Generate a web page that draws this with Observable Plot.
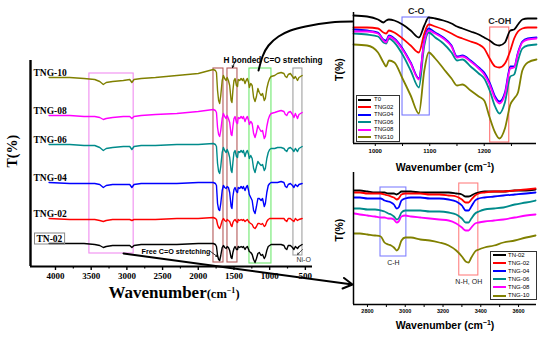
<!DOCTYPE html>
<html><head><meta charset="utf-8">
<script src="https://cdn.jsdelivr.net/npm/d3@7"></script>
<script src="https://cdn.jsdelivr.net/npm/@observablehq/plot@0.6"></script>
<style>
body{margin:0;background:#fff}
#wrap{position:relative;width:550px;height:337px;overflow:hidden;background:#fff}
#wrap svg{position:absolute}
.t{position:absolute;white-space:nowrap}
.lgbox{position:absolute;border:1px solid #333;box-sizing:border-box}
.sw{position:absolute;height:2px}
.lt{position:absolute;font:6px 'Liberation Sans',Arial,sans-serif;line-height:7px;color:#000;white-space:nowrap}
</style></head><body><div id="wrap"></div><script>
// ---------- main spectra (wavenumber, arbitrary T units) ----------
const mainSeries = ["TN-02","TNG-02","TNG-04","TNG-06","TNG-08","TNG-10"];
const mainW = [4090,3800,3600,3450,3380,3330,3290,3200,3050,2960,
  2930,2900,2800,2600,2300,2000,1790,1760,1745,1730,
  1715,1700,1685,1665,1648,1630,1610,1595,1578,1560,
  1540,1528,1515,1500,1485,1465,1450,1440,1420,1400,
  1380,1368,1345,1330,1312,1295,1285,1265,1245,1225,
  1205,1185,1165,1145,1120,1100,1075,1060,1040,1020,
  1000,980,930,890,840,800,780,760,740,710,
  680,660,640,610,590,545];
const mainTN02 = [57,57,57,56,55,53,54,55,55,55, 53,55,56,56,56,57,57,56,54,45, 41,40,45,53,55,53,52,54,53,50, 43,42,48,52,54,51,51,54,53,54, 53,54,51,53,54,51,49,48,46,41, 38,42,47,48,45,46,42,44,50,54, 55,56,56,56,56,55,52,51,55,55, 53,51,54,52,54,56];
const mainTNG02 = [82,81,81,81,80,79,80,81,81,81, 80,81,81,81,82,82,83,82,81,76, 73,72,75,80,82,80,79,81,80,79, 75,74,78,80,81,79,78,81,80,81, 80,81,79,80,81,79,78,77,76,73, 72,74,77,77,76,77,74,75,79,81, 82,82,82,82,82,82,80,79,82,82, 80,79,82,80,81,82];
const mainTNG04 = [118,117,117,117,116,113,115,116,116,116, 113,116,117,117,117,118,118,117,115,97, 91,90,97,110,115,113,112,114,113,108, 94,92,104,111,113,109,108,113,112,114, 112,114,110,113,115,110,106,103,100,90, 87,94,102,102,100,102,94,97,108,115, 117,118,118,118,119,118,114,113,116,117, 115,113,116,114,116,117];
const mainTNG06 = [156,156,155,155,153,150,152,153,154,154, 151,154,155,155,156,156,157,156,154,137, 129,127,134,148,153,150,148,151,148,143, 130,128,138,148,150,144,143,149,148,150, 148,150,144,148,150,146,142,145,142,132, 128,134,139,137,135,136,130,132,142,148, 151,152,152,153,153,152,150,149,152,153, 151,149,152,149,152,154];
const mainTNG08 = [185,185,184,184,183,181,182,183,184,184, 182,184,185,186,187,189,191,190,188,173, 166,164,170,182,187,184,182,185,182,178, 166,165,174,182,184,178,177,183,182,184, 182,184,179,182,184,180,176,179,177,167, 163,168,175,172,169,170,162,164,174,181, 185,187,188,189,190,189,186,185,188,189, 186,183,187,182,186,188];
const mainTNG10 = [223,223,222,221,219,216,218,219,220,221, 218,221,222,223,225,227,231,230,228,210, 200,197,205,220,225,222,220,223,220,215, 200,198,210,220,222,215,214,221,220,222, 220,222,217,220,222,218,213,217,215,203, 199,204,212,208,205,207,200,202,212,218, 222,224,225,227,228,227,224,223,226,227, 224,222,224,220,223,225];
const mainValues = [mainTN02, mainTNG02, mainTNG04, mainTNG06, mainTNG08, mainTNG10];
const mainTicks = [4000,3500,3000,2500,2000,1500,1000,500];
const mainMinorTicks = [3750,3250,2750,2250,1750,1250,750];
// highlighted wavenumber regions in the main panel
const regionFrom = [3525,1787,1591,1283,667];
const regionTo   = [2905,1647,1451,975,541];
const regionTop  = [227,232,232,232,232];
const regionBot  = [47,38,38,37,45];

// ---------- inset 1 (C-O / C-OH) ----------
const inset1Series = ["T0","TNG02","TNG04","TNG06","TNG08","TNG10"];
const inset1W = [960,985,1005,1015,1020,1025,1035,1050,1065,1080,1090,1098,1110,1125,1140,1150,1160,1175,1190,1200,1210,1220,1228,1238,1248,1255,1262,1270,1280,1296];
const inset1T0    = [135,134,131,128,130,131,130,126,120,113,125,133,132,130,127,124,122,119,116,113,110,106,105,108,120,121,126,131,132,132];
const inset1TNG02 = [123,123,122,118,117,120,118,112,105,98,117,126,124,121,117,114,112,109,106,102,92,84,83,87,100,112,119,122,123,123];
const inset1TNG04 = [121,120,118,111,110,115,112,102,88,72,110,122,118,113,105,94,95,90,83,78,68,54,49,58,84,84,98,109,112,113];
const inset1TNG06 = [117,116,114,108,107,112,108,96,80,63,105,118,113,107,98,90,91,84,77,72,60,44,37,48,74,76,90,102,105,106];
const inset1TNG08 = [119,119,117,110,108,114,111,101,87,71,109,120,117,112,104,93,94,89,82,76,66,52,47,56,82,83,97,108,111,112];
const inset1TNG10 = [106,105,98,88,84,90,88,72,55,37,80,98,92,82,72,65,66,60,54,50,33,18,12,22,46,52,58,80,88,91];
const inset1Values = [inset1T0, inset1TNG02, inset1TNG04, inset1TNG06, inset1TNG08, inset1TNG10];
const inset1Ticks = [1000,1050,1100,1150,1200,1250];
const inset1Bands = ["C-O","C-OH"];
const inset1BandFrom = [1050,1211];
const inset1BandTo = [1100,1246];
const inset1BandTop = [133,123];
const inset1BandBot = [35,8];

// ---------- inset 2 (C-H / N-H, OH) ----------
const inset2Series = ["TN-02","TNG-02","TNG-04","TNG-06","TNG-08","TNG-10"];
const inset2W = [2730,2760,2800,2840,2870,2890,2910,2925,2940,2955,2965,2980,3000,3030,3080,3130,3180,3230,3270,3300,3320,3335,3350,3370,3390,3420,3470,3520,3580,3640,3690];
const inset2TN02  = [130,130,129,128,128,128,127,127,127,126,127,129,129,129,128,128,128,128,127,126,124,124,125,127,128,129,129,129,130,130,131];
const inset2TNG02 = [128,128,127,127,127,126,125,124,123,121,122,126,127,127,127,126,126,125,124,121,118,118,121,125,127,128,129,129,130,131,132];
const inset2TNG04 = [123,123,122,122,122,120,119,118,116,112,113,120,122,123,123,122,122,121,119,115,110,110,114,120,122,123,124,125,126,127,128];
const inset2TNG06 = [112,112,111,111,110,109,107,106,104,101,102,108,110,110,110,109,109,108,106,102,98,98,102,107,109,111,112,113,116,118,120];
const inset2TNG08 = [107,106,105,104,103,103,102,102,101,98,99,104,105,104,103,102,101,100,97,93,90,90,93,97,98,99,100,101,103,105,106];
const inset2TNG10 = [87,87,86,85,84,78,76,75,73,70,72,80,83,83,81,80,78,75,70,64,59,58,63,69,71,73,75,78,80,83,85];
const inset2Values = [inset2TN02, inset2TNG02, inset2TNG04, inset2TNG06, inset2TNG08, inset2TNG10];
const inset2Ticks = [2800,2900,3000,3100,3200,3300,3400,3500,3600];
const inset2Bands = ["C-H","N-H, OH"];
const inset2BandFrom = [2869,3286];
const inset2BandTo = [3006,3387];
const inset2BandTop = [133,137];
const inset2BandBot = [64,45];

// ---------- styles ----------
const seriesColors = ["#000000","#ff0000","#0000ff","#008b8b","#ff00ff","#808000"];
const regionColors = ["#f08cf0","#b45a5a","#b45a5a","#6ee86e","#a0a0a0"];
const serif = "'Liberation Serif','Times New Roman',serif";
const sans = "'Liberation Sans',Arial,sans-serif";
const wrap = document.getElementById("wrap");

// ---------- main panel ----------
const labelRows = mainSeries.map((s,i)=>({name:s, T: mainValues[i][0]}));
const mainPlot = Plot.plot({
  width: 550, height: 337,
  marginLeft: 30, marginRight: 238, marginTop: 60, marginBottom: 71,
  style: {background:"transparent", overflow:"visible", fontFamily: serif, fontSize:"9px", fontWeight:"bold", color:"#000"},
  x: {domain:[4350,400], ticks: mainTicks, tickFormat: d=>String(d), tickSize: 4, tickPadding: 2, label: null},
  y: {domain:[34,240], axis: null},
  marks: [
    ...regionFrom.map((f,i)=>Plot.rect([i], {x1: ()=>f, x2: ()=>regionTo[i], y1: ()=>regionBot[i], y2: ()=>regionTop[i], fill:"none", stroke: regionColors[i], strokeWidth: 1.1})),
    ...mainSeries.map((s,i)=>Plot.line(mainW.map((w,j)=>({w, T: mainValues[i][j]})), {x:"w", y:"T", stroke: seriesColors[i], strokeWidth: 1.4})),
    Plot.ruleY([34], {strokeWidth: 2}),
    Plot.ruleX([4350], {strokeWidth: 2.4}),
    Plot.ruleX(mainMinorTicks, {y1: 34, y2: 31.5, strokeWidth: 1.2}),
    Plot.text(labelRows.filter(d=>d.name!=="TN-02"), {frameAnchor:"left", y:"T", text:"name", dx: 3, dy: -2, lineAnchor:"bottom", textAnchor:"start", fontSize: 9.5, fontFamily: serif, fontWeight:"bold"}),
    Plot.text(labelRows.filter(d=>d.name==="TN-02"), {frameAnchor:"left", y:"T", text:"name", dx: 6, dy: -2, lineAnchor:"bottom", textAnchor:"start", fontSize: 9.5, fontFamily: serif, fontWeight:"bold"}),
    Plot.text(["T(%)"], {frameAnchor:"left", text: d=>d, rotate: -90, dx: -18, dy: 4, fontSize: 14, fontFamily: serif, fontWeight:"bold"}),
    Plot.text(["H bonded C=O stretching"], {x: ()=>regionTo[1], y: ()=>regionTop[1], text: d=>d, textAnchor:"start", lineAnchor:"bottom", dy: -6, fontSize: 8.2, fontFamily: sans, fontWeight:"bold"}),
    Plot.arrow([0], {x1: ()=>1479, y1: ()=>240, x2: ()=>1521, y2: ()=>233, headLength: 3, strokeWidth: 0.9}),
    Plot.text(["Free C=O stretching"], {x: ()=>regionFrom[1], y: ()=>regionBot[0], text: d=>d, textAnchor:"end", dx: -3, dy: -2, fontSize: 7.2, fontFamily: sans, fontWeight:"bold"}),
    Plot.arrow([0], {x1: ()=>1829, y1: ()=>49, x2: ()=>1735, y2: ()=>44, headLength: 3, strokeWidth: 0.8}),
    Plot.text(["Ni-O"], {x: ()=>regionFrom[4], y: ()=>regionBot[4], text: d=>d, textAnchor:"start", dx: 3, dy: -4 + 8, fontSize: 7, fontFamily: sans, fontWeight:"normal", fill:"#333"}),
    Plot.arrow([0], {x1: ()=>540, y1: ()=>51, x2: ()=>610, y2: ()=>46, headLength: 3, strokeWidth: 0.8, stroke:"#333"}),
    // connector from the C-O region to the upper inset
    Plot.line([[1156,230],[1100,244],[1016,255],[876,264],[708,270],[498,274],[148,278],[-160,279]], {x: d=>d[0], y: d=>d[1], curve:"natural", strokeWidth: 2}),
    // connector from the C-H / N-H region to the lower inset
    Plot.arrow([0], {x1: ()=>3047, y1: ()=>47, x2: ()=>-160, y2: ()=>16, headLength: 8, strokeWidth: 2})
  ]
});
mainPlot.style.left = "0px"; mainPlot.style.top = "0px";
wrap.appendChild(mainPlot);
mainPlot.querySelectorAll('[aria-label^="x-axis"] path, [aria-label^="x-axis"] line').forEach(e=>e.setAttribute("stroke-width","1.4"));
// box around the TN-02 label
mainPlot.querySelectorAll("text").forEach(t=>{
  if (t.textContent === "TN-02") {
    const b = t.getBBox();
    const r = document.createElementNS("http://www.w3.org/2000/svg","rect");
    r.setAttribute("x", b.x-2); r.setAttribute("y", b.y-0.5);
    r.setAttribute("width", b.width+4); r.setAttribute("height", b.height+1);
    r.setAttribute("fill","none"); r.setAttribute("stroke","#888"); r.setAttribute("stroke-width","1");
    if (t.getAttribute("transform")) r.setAttribute("transform", t.getAttribute("transform"));
    t.parentNode.insertBefore(r, t);
  }
});

// ---------- insets ----------
function inset(opts) {
  const p = Plot.plot({
    width: 230, height: opts.height,
    marginLeft: 33, marginRight: 14, marginTop: 12, marginBottom: opts.marginBottom,
    style: {background:"transparent", overflow:"visible", fontFamily: sans, fontSize: opts.tickFont, fontWeight:"bold", color:"#000"},
    x: {domain: opts.xDomain, ticks: opts.ticks, tickFormat: opts.tickFormat, tickSize: 3, tickPadding: 2, label: null},
    y: {domain: opts.yDomain, axis: null},
    marks: [
      ...opts.bands.map((b,i)=>Plot.rect([i], {x1: ()=>opts.bandFrom[i], x2: ()=>opts.bandTo[i], y1: ()=>opts.bandBot[i], y2: ()=>opts.bandTop[i], fill:"none", stroke: opts.bandColors[i], strokeWidth: 1.1})),
      ...opts.values.map((v,i)=>Plot.line(opts.w.map((w,j)=>({w, T: v[j]})), {x:"w", y:"T", stroke: seriesColors[i], strokeWidth: 1.8, curve:"monotone-x"})),
      Plot.ruleY([opts.yDomain[0]], {strokeWidth: 1.5}),
      Plot.ruleX([opts.xDomain[0]], {strokeWidth: 1.5}),
      Plot.text(["T(%)"], {frameAnchor:"left", text: d=>d, rotate: -90, dx: -14, dy: 3, fontSize: 10.5, fontFamily: sans, fontWeight:"bold"}),
      Plot.text(opts.bands.map((b,i)=>i), {x: i=>(opts.bandFrom[i]+opts.bandTo[i])/2, y: i=>opts.labelAtTop ? opts.bandTop[i] : opts.bandBot[i], text: i=>opts.bands[i], dy: opts.labelDy, fontSize: opts.labelFont, fontWeight: opts.labelWeight, fontFamily: sans, fill: "#222"})
    ]
  });
  p.style.left = "320px"; p.style.top = opts.top + "px";
  wrap.appendChild(p);
  p.querySelectorAll('[aria-label^="x-axis"] path, [aria-label^="x-axis"] line').forEach(e=>e.setAttribute("stroke-width","1"));
  return p;
}
inset({height:180, marginBottom:37, top:0, tickFont:"6px", xDomain:[960,1296], yDomain:[7,138], ticks: inset1Ticks,
  tickFormat: d=> d%100===0 ? String(d) : "", w: inset1W, values: inset1Values,
  bands: inset1Bands, bandFrom: inset1BandFrom, bandTo: inset1BandTo, bandTop: inset1BandTop, bandBot: inset1BandBot,
  bandColors: ["#7878ff","#ff7070"], labelAtTop: true, labelDy: -6, labelFont: 9, labelWeight: "bold"});
inset({height:177, marginBottom:33, top:160, tickFont:"5.5px", xDomain:[2726,3695], yDomain:[16,148], ticks: inset2Ticks,
  tickFormat: d=> d%200===0 ? String(d) : "", w: inset2W, values: inset2Values,
  bands: inset2Bands, bandFrom: inset2BandFrom, bandTo: inset2BandTo, bandTop: inset2BandTop, bandBot: inset2BandBot,
  bandColors: ["#8080ff","#ff8080"], labelAtTop: false, labelDy: 6, labelFont: 7, labelWeight: "normal"});

// ---------- axis titles (HTML text) ----------
function addText(html, left, top, css) {
  const d = document.createElement("div"); d.className = "t"; d.innerHTML = html;
  d.style.left = left + "px"; d.style.top = top + "px"; Object.assign(d.style, css);
  wrap.appendChild(d); return d;
}
addText('Wavenumber<span style="font-size:12.5px">(cm<sup style="font-size:8px;line-height:0">\u22121</sup>)</span>', 174, 283,
  {font:"bold 17px " + serif, lineHeight:"20px", transform:"translateX(-50%)"});
addText('Wavenumber (cm<sup style="font-size:7px;line-height:0">\u22121</sup>)', 445, 161,
  {font:"bold 10.5px " + sans, lineHeight:"12px", transform:"translateX(-50%)"});
addText('Wavenumber (cm<sup style="font-size:7px;line-height:0">\u22121</sup>)', 445, 319,
  {font:"bold 10.5px " + sans, lineHeight:"12px", transform:"translateX(-50%)"});

// ---------- inset legends ----------
function legend(names, left, top, width, height, y0, step, swLeft, textLeft) {
  const box = document.createElement("div"); box.className = "lgbox";
  Object.assign(box.style, {left:left+"px", top:top+"px", width:width+"px", height:height+"px"});
  wrap.appendChild(box);
  names.forEach((n,i)=>{
    const cy = y0 + step*i;
    const sw = document.createElement("div"); sw.className = "sw";
    Object.assign(sw.style, {left:swLeft+"px", top:(cy-1)+"px", width:"13px", background: seriesColors[i]});
    wrap.appendChild(sw);
    const t = document.createElement("div"); t.className = "lt"; t.textContent = n;
    Object.assign(t.style, {left:textLeft+"px", top:(cy-3.5)+"px"});
    wrap.appendChild(t);
  });
}
legend(inset1Series, 356, 94.5, 44, 47, 99.5, 7.5, 358, 374);
legend(inset2Series, 490, 250.5, 47, 49, 255, 8.1, 493, 508);
</script></body></html>
